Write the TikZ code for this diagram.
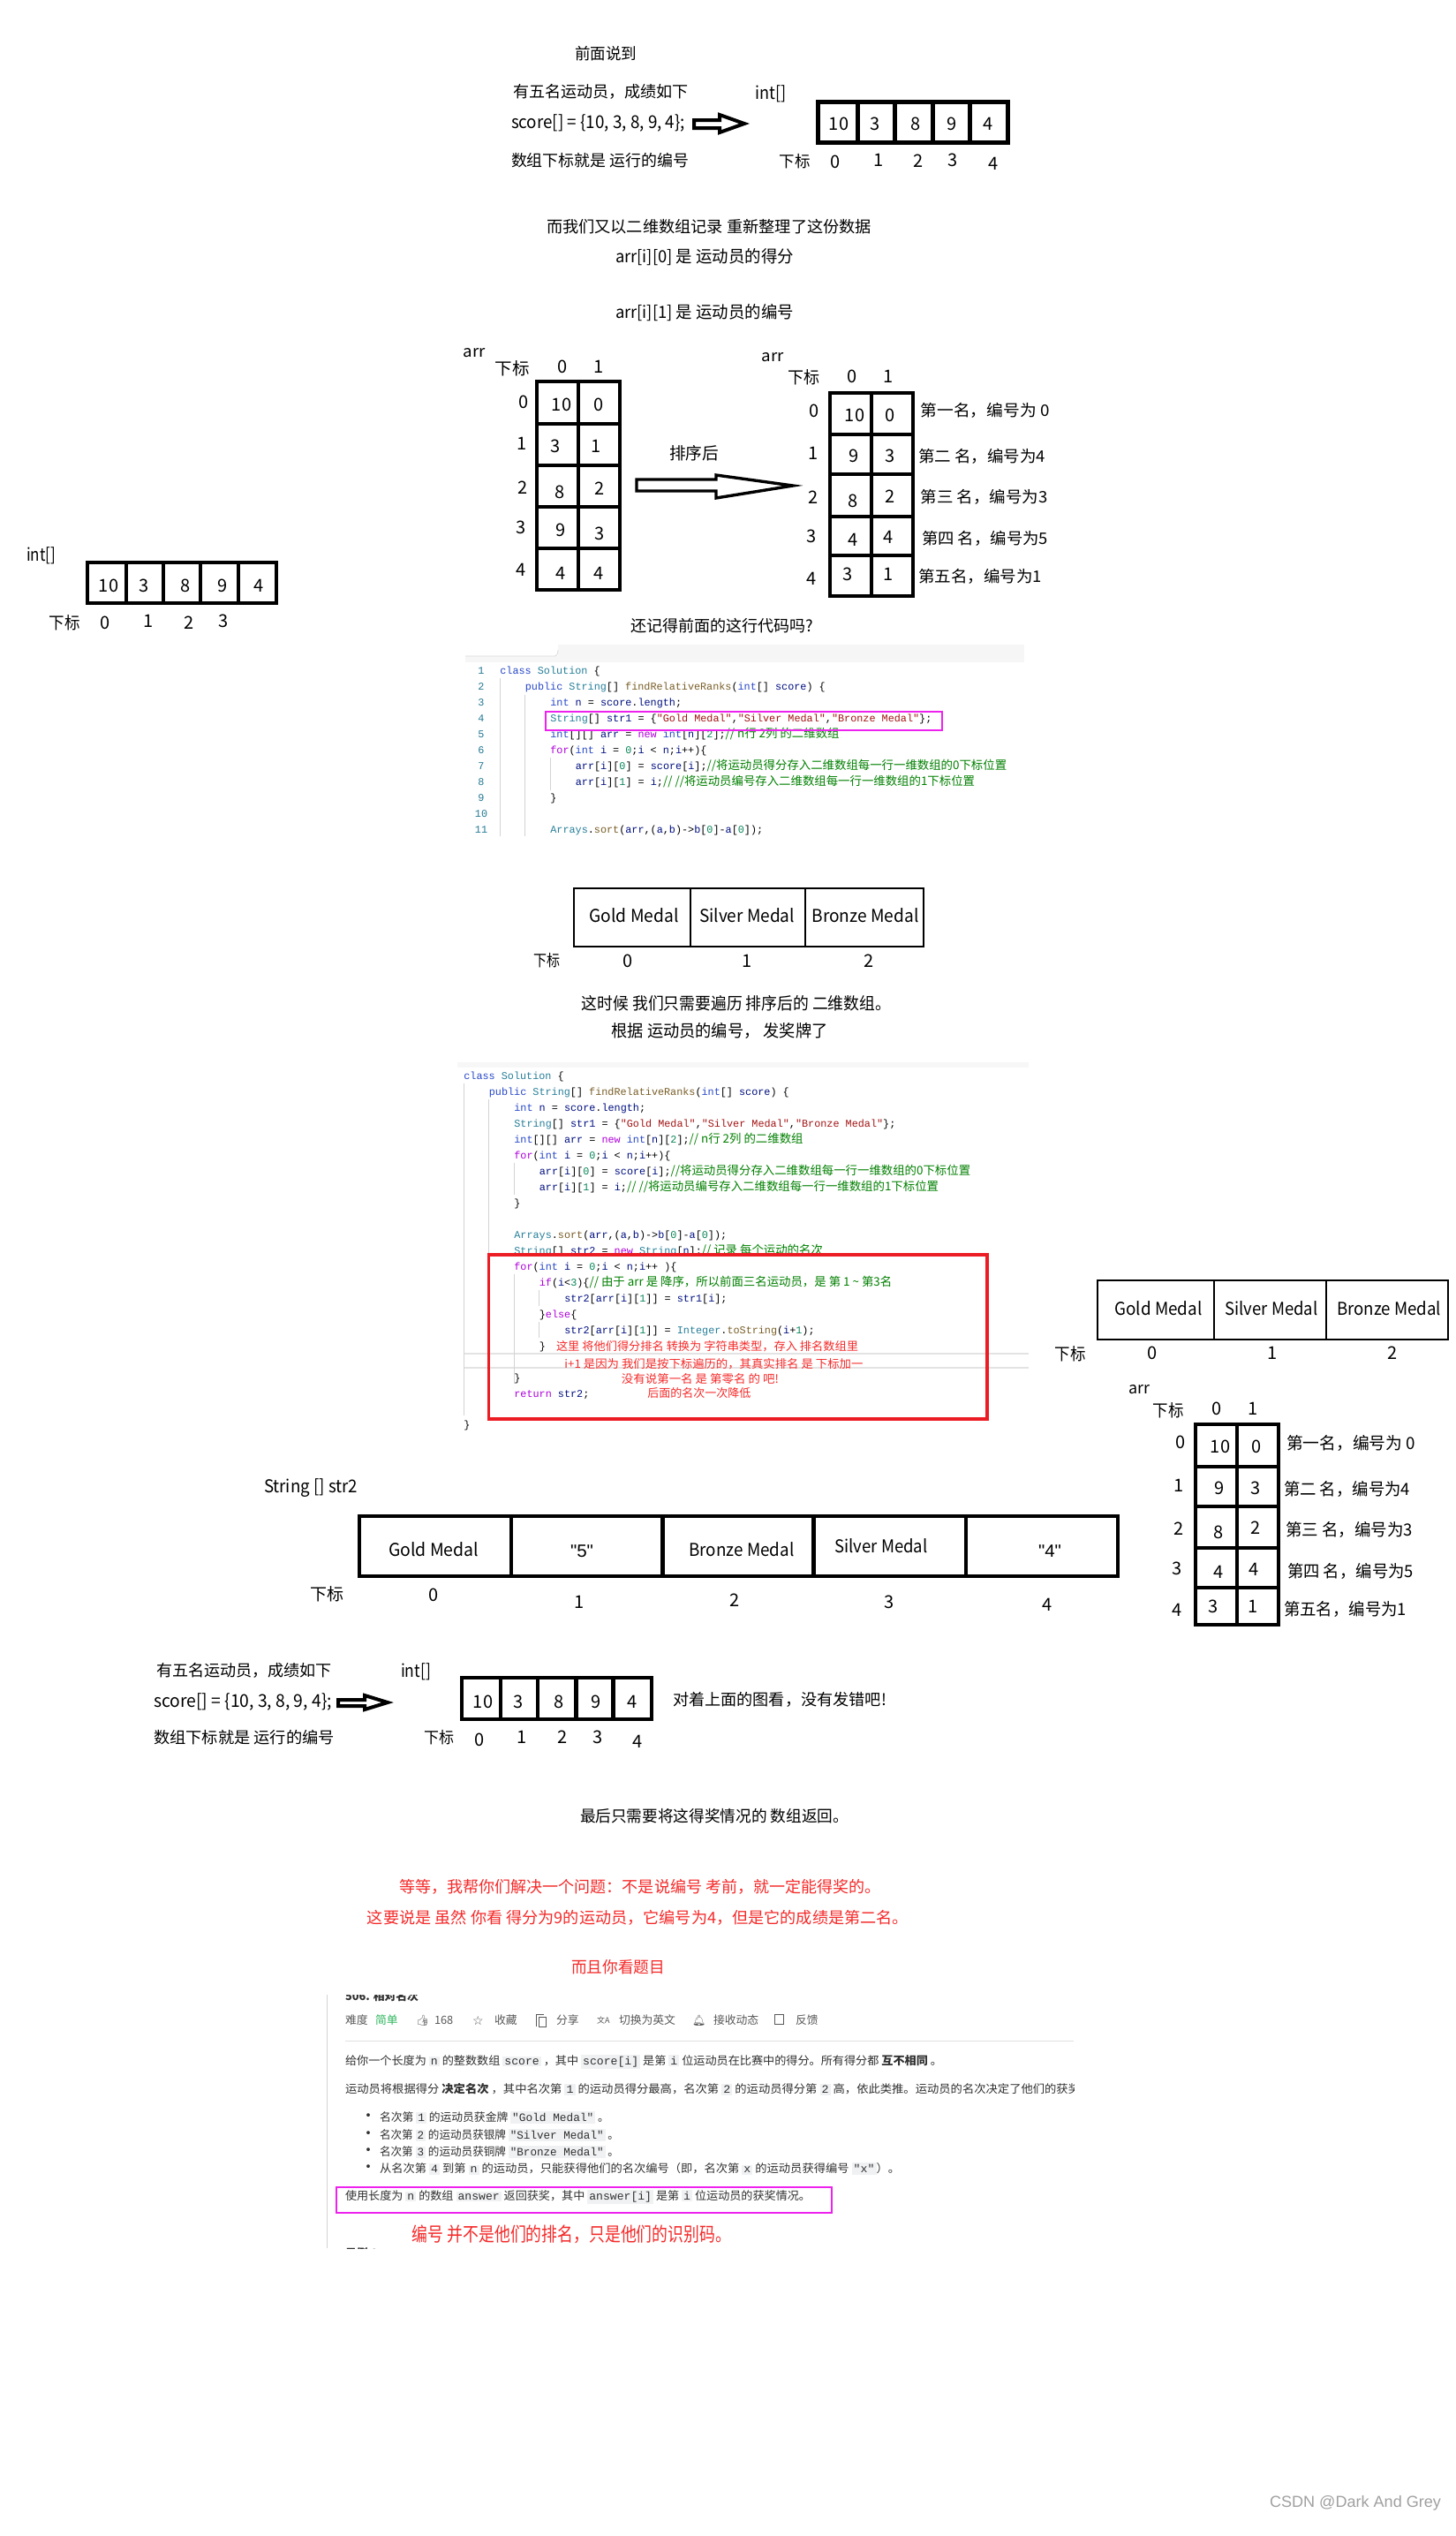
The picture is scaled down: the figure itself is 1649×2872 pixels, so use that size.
\documentclass[tikz,border=0pt]{standalone}
\usepackage{fontspec}
\usepackage{graphicx}
\setmainfont{Noto Sans CJK SC}
\setmonofont{Liberation Mono}
\newfontfamily\cjk{Noto Sans CJK SC}
\newfontfamily\lsans{Liberation Sans}
\newfontfamily\dejavu{DejaVu Sans}
\newfontfamily\emo{Noto Emoji}
\definecolor{ckw}{HTML}{2848C8}
\definecolor{cty}{HTML}{267F99}
\definecolor{cfn}{HTML}{795E26}
\definecolor{cva}{HTML}{001080}
\definecolor{cst}{HTML}{A31515}
\definecolor{ccm}{HTML}{008000}
\definecolor{ckp}{HTML}{AF00DB}
\definecolor{cnu}{HTML}{098658}
\definecolor{clno}{HTML}{237893}
\definecolor{cguide}{HTML}{D3D3D3}
\definecolor{cmag}{HTML}{EE22EE}
\definecolor{cred}{HTML}{F52A2A}
\definecolor{cboxred}{HTML}{EC1C24}
\definecolor{ceasy}{HTML}{2DB55D}
\definecolor{cicbg}{HTML}{F0F1F3}
\definecolor{cwm}{HTML}{A0A0A0}
\definecolor{clc}{HTML}{303030}
\definecolor{cbar}{HTML}{595959}
\newcommand\fs[1]{\fontsize{#1}{#1}\selectfont}
\newcommand\FW[3]{{\fs{#2}\resizebox{#1}{\height}{#3}}}
\newcommand\ckK[1]{\textcolor{ckw}{#1}}
\newcommand\ckT[1]{\textcolor{cty}{#1}}
\newcommand\ckF[1]{\textcolor{cfn}{#1}}
\newcommand\ckV[1]{\textcolor{cva}{#1}}
\newcommand\ckS[1]{\textcolor{cst}{#1}}
\newcommand\ckP[1]{\textcolor{ckp}{#1}}
\newcommand\ckN[1]{\textcolor{cnu}{#1}}
\newcommand\ckC[1]{{\color{ccm}\cjk\fs{6.7pt}#1}}
\newcommand\lcf{\fs{6.4pt}}
\newcommand\ic[1]{{\setlength{\fboxsep}{1pt}\colorbox{cicbg}{\ttfamily\fs{6.4pt}#1}}}
\tikzset{
  tx/.style={inner sep=0pt, outer sep=0pt},
  dig/.style={inner sep=0pt, font=\fs{10pt}},
  code/.style={anchor=base west, inner sep=0pt, font=\ttfamily\fs{5.9pt}},
  lno/.style={anchor=base, inner sep=0pt, font=\ttfamily\fs{5.9pt}, text=clno},
  cellA/.style={line width=2.5pt},
  cellB/.style={line width=2.1pt},
  medal/.style={line width=1.4pt},
  guide/.style={draw=cguide, line width=0.5pt},
  blockarrow/.style={draw=black, fill=white, line width=2pt, line join=miter},
  hlbox/.style={draw=cmag, line width=1pt},
  redtx/.style={inner sep=0pt, anchor=west, text=cred},
}
\begin{document}
\begin{tikzpicture}[x=0.5pt,y=-0.5pt]
\useasboundingbox (0,0) rectangle (1649,2872);
\fill[white] (0,0) rectangle (1649,2872);

% ---------- section 1 ----------
\node[tx] (s1a) at (686,61) {\FW{35pt}{9pt}{前面说到}};
\node[tx,anchor=west] (s1b) at (581,104) {\FW{99.5pt}{9pt}{有五名运动员，成绩如下}};
\node[tx,anchor=west] (s1c) at (579,139) {\FW{98.5pt}{10pt}{score[] = \{10, 3, 8, 9, 4\};}};
\node[tx,anchor=west] (s1d) at (579,182) {\FW{100.5pt}{9pt}{数组下标就是 运行的编号}};
\draw[blockarrow] (786,136)--(815,136)--(815,130)--(843,140)--(815,150)--(815,145)--(786,145)--cycle;
\node[tx] (s1int) at (873,106) {\FW{17.5pt}{10pt}{int[]}};
\draw[cellA] (926,115) rectangle (1141,161);
\foreach \x in {971,1013,1056,1098} \draw[cellA] (\x,115)--(\x,161);
\foreach \x/\v/\n in {950/10/a,991/3/b,1037/8/c,1078/9/d,1119/4/e}
  \node[dig] (s1v\n) at (\x,140) {\v};
\node[tx] (s1idx) at (900,183) {\FW{17.5pt}{9pt}{下标}};
\foreach \x/\y/\v in {946/183/0,995/181/1,1040/182/2,1079/181/3,1125/185/4}
  \node[dig] (s1i\v) at (\x,\y) {\v};

% ---------- section 2 ----------
\node[tx] (s2a) at (803,257) {\FW{184pt}{9pt}{而我们又以二维数组记录 重新整理了这份数据}};
\node[tx] (s2b) at (798,291) {\FW{101pt}{9.5pt}{arr[i][0] 是 运动员的得分}};
\node[tx] (s2c) at (798,354) {\FW{101pt}{9.5pt}{arr[i][1] 是 运动员的编号}};

% ---------- section 3: left 2D array ----------
\node[tx] (Larr) at (537,400) {\FW{12.5pt}{9pt}{arr}};
\node[tx] (Lidx) at (580,417) {\FW{19.5pt}{9.5pt}{下标}};
\node[dig] (Lc0) at (637,415) {0};
\node[dig] (Lc1) at (678,415) {1};
\draw[cellB] (608,432) rectangle (702,668);
\draw[cellB] (655,432)--(655,668);
\foreach \y in {480,527,574,621} \draw[cellB] (608,\y)--(702,\y);
\foreach \x/\y/\v in {593/455/0,591.5/502/1,592/552/2,590.5/597/3,590.5/645/4}
  \node[dig] (Lr\v) at (\x,\y) {\v};
\foreach \x/\y/\v/\n in {636/458/10/a,678/458/0/b,629/505/3/c,675/505/1/d,634/557/8/e,679/553/2/f,635/600/9/g,679/604/3/h,635/649/4/i,678/649/4/j}
  \node[dig] (Lv\n) at (\x,\y) {\v};
\node[tx] (sortlbl) at (786,513) {\FW{28pt}{9.5pt}{排序后}};
\draw[blockarrow, line width=1.7pt] (721,543)--(811,543)--(811,538)--(898,550)--(811,564)--(811,556)--(721,556)--cycle;

% ---------- section 3: right 2D array ----------
\node[tx] (Rarr) at (875,405) {\FW{12.5pt}{9pt}{arr}};
\node[tx] (Ridx) at (910,427) {\FW{18pt}{9.5pt}{下标}};
\node[dig] (Rc0) at (965,426) {0};
\node[dig] (Rc1) at (1006,426) {1};
\draw[cellB] (940,445) rectangle (1034,675);
\draw[cellB] (987,445)--(987,675);
\foreach \y in {492,537,585,629} \draw[cellB] (940,\y)--(1034,\y);
\foreach \x/\y/\v in {922/465/0,921/513/1,921/563/2,919.5/607/3,919.5/655/4}
  \node[dig] (Rr\v) at (\x,\y) {\v};
\foreach \x/\y/\v/\n in {968/470/10/a,1008.5/470/0/b,967/516/9/c,1008.5/516/3/d,966/567/8/e,1008.5/562/2/f,966/611/4/g,1006/608/4/h,960/650/3/i,1006/650/1/j}
  \node[dig] (Rv\n) at (\x,\y) {\v};
\node[tx,anchor=west] (Rl0) at (1042.5,465) {\FW{73pt}{9pt}{第一名，编号为 0}};
\node[tx,anchor=west] (Rl1) at (1040,517) {\FW{72pt}{9pt}{第二 名，编号为4}};
\node[tx,anchor=west] (Rl2) at (1042.5,563) {\FW{72pt}{9pt}{第三 名，编号为3}};
\node[tx,anchor=west] (Rl3) at (1044,610) {\FW{71.5pt}{9pt}{第四 名，编号为5}};
\node[tx,anchor=west] (Rl4) at (1040,653) {\FW{70pt}{9pt}{第五名，编号为1}};

% ---------- left int[] array ----------
\node[tx,anchor=west] (Iint) at (30,629) {\FW{16.5pt}{10pt}{int[]}};
\draw[cellB] (99,637) rectangle (313,683);
\foreach \x in {143,185,227,270} \draw[cellB] (\x,637)--(\x,683);
\foreach \x/\v/\n in {123/10/a,163/3/b,210/8/c,252/9/d,293/4/e}
  \node[dig] (Iv\n) at (\x,663) {\v};
\node[tx] (Iidx) at (73,705) {\FW{17.5pt}{9.5pt}{下标}};
\foreach \x/\y/\v in {119/705/0,168/703/1,214/705/2,253/703/3}
  \node[dig] (Ii\v) at (\x,\y) {\v};

\node[tx] (remember) at (818,709) {\FW{103.5pt}{9pt}{还记得前面的这行代码吗?}};

% ---------- code screenshot 1 ----------
\fill[gray!7] (632,730) rectangle (1160,750);
\fill[gray!7] (527,743) rectangle (632,750);
\draw[gray!30, line width=0.4pt] (527,743)--(628,743) to[out=0,in=-90] (632,736);
\draw[guide] (566,768)--(566,947);
\draw[guide] (594.5,787)--(594.5,947);
\draw[guide] (623,858)--(623,895);
\foreach \k/\y in {1/763,2/781,3/799,4/817,5/835,6/853,7/871,8/889,9/907,10/925,11/943}
  \node[lno] (c1n\k) at (545,\y) {\k};
\node[code] (c1l1) at (566,763) {\ckK{class} \ckT{Solution} \{};
\node[code] (c1l2) at (594.5,781) {\ckK{public} \ckT{String}[] \ckF{findRelativeRanks}(\ckK{int}[] \ckV{score}) \{};
\node[code] (c1l3) at (623,799) {\ckK{int} \ckV{n} = \ckV{score}.\ckV{length};};
\node[code] (c1l4) at (623,817) {\ckT{String}[] \ckV{str1} = \{\ckS{"Gold Medal"},\ckS{"Silver Medal"},\ckS{"Bronze Medal"}\};};
\node[code] (c1l5) at (623,835) {\ckK{int}[][] \ckV{arr} = \ckP{new} \ckK{int}[\ckV{n}][\ckN{2}];\ckC{// n行 2列 的二维数组}};
\node[code] (c1l6) at (623,853) {\ckP{for}(\ckK{int} \ckV{i} = \ckN{0};\ckV{i} < \ckV{n};\ckV{i}++)\{};
\node[code] (c1l7) at (651.5,871) {\ckV{arr}[\ckV{i}][\ckN{0}] = \ckV{score}[\ckV{i}];\ckC{//将运动员得分存入二维数组每一行一维数组的0下标位置}};
\node[code] (c1l8) at (651.5,889) {\ckV{arr}[\ckV{i}][\ckN{1}] = \ckV{i};\ckC{// //将运动员编号存入二维数组每一行一维数组的1下标位置}};
\node[code] (c1l9) at (623,907) {\}};
\node[code] (c1l11) at (623,943) {\ckT{Arrays}.\ckF{sort}(\ckV{arr},(\ckV{a},\ckV{b})->\ckV{b}[\ckN{0}]-\ckV{a}[\ckN{0}]);};
\draw[hlbox] (618,806) rectangle (1067,827);

% ---------- medal table 1 ----------
\draw[medal] (650,1006) rectangle (1046,1072);
\draw[medal] (782,1006)--(782,1072);
\draw[medal] (912,1006)--(912,1072);
\node[tx] (m1g) at (718,1037) {\FW{50.5pt}{10pt}{Gold Medal}};
\node[tx] (m1s) at (846,1037) {\FW{54pt}{10pt}{Silver Medal}};
\node[tx] (m1b) at (980,1037) {\FW{60.5pt}{10pt}{Bronze Medal}};
\node[tx] (m1idx) at (619,1088) {\FW{15pt}{9pt}{下标}};
\node[dig] (m1i0) at (711,1088) {0};
\node[dig] (m1i1) at (846,1088) {1};
\node[dig] (m1i2) at (984,1088) {2};
\node[tx] (trav) at (834,1136) {\FW{175pt}{9.5pt}{这时候 我们只需要遍历 排序后的 二维数组。}};
\node[tx] (award) at (815,1167) {\FW{122.5pt}{9.5pt}{根据 运动员的编号， 发奖牌了}};

% ---------- code screenshot 2 ----------
\fill[gray!6] (518,1203) rectangle (1165,1209);
\draw[gray!22, line width=0.6pt] (525,1533)--(1165,1533);
\draw[gray!22, line width=0.6pt] (525,1549)--(1165,1549);
\draw[guide] (525,1227)--(525,1603);
\draw[guide] (553.5,1245)--(553.5,1603);
\draw[guide] (582,1317)--(582,1353);
\draw[guide] (582,1443)--(582,1567);
\draw[guide] (610.5,1461)--(610.5,1479);
\draw[guide] (610.5,1497)--(610.5,1515);
\node[code] (c2l1) at (525,1222) {\ckK{class} \ckT{Solution} \{};
\node[code] (c2l2) at (553.5,1240) {\ckK{public} \ckT{String}[] \ckF{findRelativeRanks}(\ckK{int}[] \ckV{score}) \{};
\node[code] (c2l3) at (582,1258) {\ckK{int} \ckV{n} = \ckV{score}.\ckV{length};};
\node[code] (c2l4) at (582,1276) {\ckT{String}[] \ckV{str1} = \{\ckS{"Gold Medal"},\ckS{"Silver Medal"},\ckS{"Bronze Medal"}\};};
\node[code] (c2l5) at (582,1294) {\ckK{int}[][] \ckV{arr} = \ckP{new} \ckK{int}[\ckV{n}][\ckN{2}];\ckC{// n行 2列 的二维数组}};
\node[code] (c2l6) at (582,1312) {\ckP{for}(\ckK{int} \ckV{i} = \ckN{0};\ckV{i} < \ckV{n};\ckV{i}++)\{};
\node[code] (c2l7) at (610.5,1330) {\ckV{arr}[\ckV{i}][\ckN{0}] = \ckV{score}[\ckV{i}];\ckC{//将运动员得分存入二维数组每一行一维数组的0下标位置}};
\node[code] (c2l8) at (610.5,1348) {\ckV{arr}[\ckV{i}][\ckN{1}] = \ckV{i};\ckC{// //将运动员编号存入二维数组每一行一维数组的1下标位置}};
\node[code] (c2l9) at (582,1366) {\}};
\node[code] (c2l11) at (582,1402) {\ckT{Arrays}.\ckF{sort}(\ckV{arr},(\ckV{a},\ckV{b})->\ckV{b}[\ckN{0}]-\ckV{a}[\ckN{0}]);};
\node[code] (c2l12) at (582,1420) {\ckT{String}[] \ckV{str2} = \ckP{new} \ckT{String}[\ckV{n}];\ckC{// 记录 每个运动的名次}};
\node[code] (c2l13) at (582,1438) {\ckP{for}(\ckK{int} \ckV{i} = \ckN{0};\ckV{i} < \ckV{n};\ckV{i}++ )\{};
\node[code] (c2l14) at (610.5,1456) {\ckP{if}(\ckV{i}<\ckN{3})\{\ckC{//  由于 arr 是 降序，所以前面三名运动员，是 第 1 \textasciitilde{} 第3名}};
\node[code] (c2l15) at (639,1474) {\ckV{str2}[\ckV{arr}[\ckV{i}][\ckN{1}]] = \ckV{str1}[\ckV{i}];};
\node[code] (c2l16) at (610.5,1492) {\}\ckP{else}\{};
\node[code] (c2l17) at (639,1510) {\ckV{str2}[\ckV{arr}[\ckV{i}][\ckN{1}]] = \ckT{Integer}.\ckF{toString}(\ckV{i}+\ckN{1});};
\node[code] (c2l18) at (610.5,1528) {\}};
\node[code] (c2l20) at (582,1564) {\}};
\node[code] (c2l21) at (582,1582) {\ckP{return} \ckV{str2};};
\node[code] (c2l23) at (525,1617) {\}};
\node[redtx] (rc1) at (629.6,1525) {\FW{171pt}{6.5pt}{这里 将他们得分排名 转换为 字符串类型，存入 排名数组里}};
\node[redtx] (rc2) at (639,1545) {\FW{169pt}{6.5pt}{i+1 是因为 我们是按下标遍历的，其真实排名 是 下标加一}};
\node[redtx] (rc3) at (703.5,1562) {\FW{89pt}{6.5pt}{没有说第一名 是 第零名 的 吧!}};
\node[redtx] (rc4) at (733,1578) {\FW{58.5pt}{6.5pt}{后面的名次一次降低}};
\draw[draw=cboxred, line width=1.75pt] (553.5,1421) rectangle (1118,1607);

% ---------- medal table 2 ----------
\draw[medal] (1243,1450) rectangle (1640,1517);
\draw[medal] (1375,1450)--(1375,1517);
\draw[medal] (1502,1450)--(1502,1517);
\node[tx] (m2g) at (1312,1482) {\FW{49.5pt}{10pt}{Gold Medal}};
\node[tx] (m2s) at (1440,1482) {\FW{52.5pt}{10pt}{Silver Medal}};
\node[tx] (m2b) at (1573,1482) {\FW{59pt}{10pt}{Bronze Medal}};
\node[tx] (m2idx) at (1212,1533) {\FW{17.5pt}{9.5pt}{下标}};
\node[dig] (m2i0) at (1305,1532) {0};
\node[dig] (m2i1) at (1441,1532) {1};
\node[dig] (m2i2) at (1577,1532) {2};

% ---------- right 2D array (bottom) ----------
\node[tx] (Tarr) at (1290,1574) {\FW{12pt}{9pt}{arr}};
\node[tx] (Tidx) at (1323,1597) {\FW{17.5pt}{9.5pt}{下标}};
\node[dig] (Tc0) at (1378,1595) {0};
\node[dig] (Tc1) at (1419,1595) {1};
\draw[cellB] (1354,1613) rectangle (1448,1840);
\draw[cellB] (1401,1613)--(1401,1840);
\foreach \y in {1661,1706,1753,1798} \draw[cellB] (1354,\y)--(1448,\y);
\foreach \x/\y/\v in {1337/1633/0,1335/1682/1,1335/1731/2,1333/1776/3,1333/1823/4}
  \node[dig] (Tr\v) at (\x,\y) {\v};
\foreach \x/\y/\v/\n in {1382/1638/10/a,1423/1638/0/b,1381/1685/9/c,1422/1685/3/d,1380/1735/8/e,1422/1730/2/f,1380/1780/4/g,1420/1777/4/h,1374/1819/3/i,1419/1819/1/j}
  \node[dig] (Tv\n) at (\x,\y) {\v};
\node[tx,anchor=west] (Tl0) at (1457,1634) {\FW{73pt}{9.5pt}{第一名，编号为 0}};
\node[tx,anchor=west] (Tl1) at (1454,1686) {\FW{71.5pt}{9.5pt}{第二 名，编号为4}};
\node[tx,anchor=west] (Tl2) at (1456,1732) {\FW{72pt}{9.5pt}{第三 名，编号为3}};
\node[tx,anchor=west] (Tl3) at (1458,1779) {\FW{71.5pt}{9.5pt}{第四 名，编号为5}};
\node[tx,anchor=west] (Tl4) at (1454,1822) {\FW{69.5pt}{9.5pt}{第五名，编号为1}};

% ---------- String[] str2 ----------
\node[tx,anchor=west] (Sname) at (299,1685) {\FW{53pt}{10pt}{String [] str2}};
\draw[cellB] (407,1717) rectangle (1266,1785);
\foreach \x in {579,750.5,921.5,1094} \draw[cellB] (\x,1717)--(\x,1785);
\node[tx] (S0) at (491,1755) {\FW{51pt}{10pt}{Gold Medal}};
\node[tx] (S1) at (659,1757) {\FW{13pt}{10pt}{\lsans "5"}};
\node[tx] (S2) at (840,1755) {\FW{59.5pt}{10pt}{Bronze Medal}};
\node[tx] (S3) at (998,1751) {\FW{52.5pt}{10pt}{Silver Medal}};
\node[tx] (S4) at (1189,1757) {\FW{13pt}{10pt}{\lsans "4"}};
\node[tx] (Sidx) at (370,1805) {\FW{19pt}{9.5pt}{下标}};
\foreach \x/\y/\v in {491/1806/0,656/1814/1,832/1812/2,1007/1814/3,1186/1817/4}
  \node[dig] (Si\v) at (\x,\y) {\v};

% ---------- section 9 ----------
\node[tx,anchor=west] (n1) at (177,1892) {\FW{99.5pt}{9pt}{有五名运动员，成绩如下}};
\node[tx,anchor=west] (n2) at (174,1927) {\FW{101pt}{10pt}{score[] = \{10, 3, 8, 9, 4\};}};
\node[tx,anchor=west] (n3) at (174,1968) {\FW{102.5pt}{9pt}{数组下标就是 运行的编号}};
\draw[blockarrow] (383,1925)--(413,1925)--(413,1920)--(439,1928)--(413,1936)--(413,1932)--(383,1932)--cycle;
\node[tx] (nint) at (471,1893) {\FW{17pt}{10pt}{int[]}};
\draw[cellB] (523,1900) rectangle (738,1947);
\foreach \x in {567,609,652.5,694.5} \draw[cellB] (\x,1900)--(\x,1947);
\foreach \x/\v/\n in {547/10/a,587/3/b,633.5/8/c,675.5/9/d,716/4/e}
  \node[dig] (nv\n) at (\x,1927) {\v};
\node[tx] (nidx) at (497,1968) {\FW{17pt}{9pt}{下标}};
\foreach \x/\y/\v in {543/1970/0,591/1967/1,637/1967/2,677/1967/3,721.6/1972/4}
  \node[dig] (ni\v) at (\x,\y) {\v};
\node[tx,anchor=west] (ncheck) at (762,1925) {\FW{121pt}{9pt}{对着上面的图看，没有发错吧!}};

% ---------- section 10 ----------
\node[tx] (fin) at (809,2057) {\FW{152pt}{9pt}{最后只需要将这得奖情况的 数组返回。}};
\node[tx, text=cred] (wait1) at (725,2137) {\FW{272.5pt}{9pt}{等等，我帮你们解决一个问题：不是说编号 考前，就一定能得奖的。}};
\node[tx, text=cred] (wait2) at (722.5,2172) {\FW{306.5pt}{9pt}{这要说是 虽然  你看 得分为9的运动员，它编号为4，但是它的成绩是第二名。}};
\node[tx, text=cred] (wait3) at (700,2228) {\FW{53pt}{9pt}{而且你看题目}};

% ---------- LeetCode screenshot ----------
\begin{scope}
\clip (368,2259) rectangle (1216,2546);
\draw[guide] (370,2259)--(370,2546);
\node[tx,anchor=base west, text=clc] (lct) at (391,2265) {\lcf\bfseries 506. 相对名次};
\node[tx,anchor=west, text=cbar] (lcd) at (391,2288) {\lcf 难度};
\node[tx,anchor=west, text=ceasy] (lce) at (425,2288) {\lcf 简单};
\node[tx,anchor=west, text=cbar] (lcthumb) at (471,2288) {\emo\fs{6pt}👍};
\node[tx,anchor=west, text=cbar] (lcnum) at (492,2288) {\lcf 168};
\node[tx,anchor=west, text=cbar] (lcstar) at (535,2288) {\dejavu\fs{7pt}☆};
\node[tx,anchor=west, text=cbar] (lcfav) at (560,2288) {\lcf 收藏};
\draw[cbar, line width=0.5pt] (607,2295)--(607,2281)--(616,2281) (610,2284) rectangle (618,2295);
\node[tx,anchor=west, text=cbar] (lcsh) at (630,2288) {\lcf 分享};
\node[tx,anchor=west, text=cbar] (lctri) at (676,2288) {\fs{4.5pt}文A};
\node[tx,anchor=west, text=cbar] (lctr) at (701,2288) {\lcf 切换为英文};
\node[tx,anchor=west, text=cbar] (lcbell) at (784,2288) {\emo\fs{6pt}🔔};
\node[tx,anchor=west, text=cbar] (lcrx) at (808,2288) {\lcf 接收动态};
\draw[cbar, line width=0.5pt] (877,2281) rectangle (887,2292);
\node[tx,anchor=west, text=cbar] (lcfb) at (901,2288) {\lcf 反馈};
\draw[gray!25, line width=0.5pt] (391,2311)--(1216,2311);
\node[tx,anchor=west, text=clc] (lcp1) at (391,2335) {\FW{338pt}{6.4pt}{给你一个长度为 \ic{n} 的整数数组 \ic{score} ，其中 \ic{score[i]} 是第 \ic{i} 位运动员在比赛中的得分。所有得分都 \textbf{互不相同} 。}};
\node[tx,anchor=west, text=clc] (lcp2) at (391,2366) {\FW{436pt}{6.4pt}{运动员将根据得分 \textbf{决定名次} ，其中名次第 \ic{1} 的运动员得分最高，名次第 \ic{2} 的运动员得分第 \ic{2} 高，依此类推。运动员的名次决定了他们的获奖情况：}};
\foreach \y/\n in {2398/a,2418/b,2437/c,2456/d}
  \node[tx, text=clc] (lcb\n) at (417.5,\y) {\fs{9pt}•};
\node[tx,anchor=west, text=clc] (lcb1) at (430,2398) {\FW{130pt}{6.4pt}{名次第 \ic{1} 的运动员获金牌 \ic{"Gold Medal"} 。}};
\node[tx,anchor=west, text=clc] (lcb2) at (430,2418) {\FW{135.5pt}{6.4pt}{名次第 \ic{2} 的运动员获银牌 \ic{"Silver Medal"} 。}};
\node[tx,anchor=west, text=clc] (lcb3) at (430,2437) {\FW{135.5pt}{6.4pt}{名次第 \ic{3} 的运动员获铜牌 \ic{"Bronze Medal"} 。}};
\node[tx,anchor=west, text=clc] (lcb4) at (430,2456) {\FW{294.5pt}{6.4pt}{从名次第 \ic{4} 到第 \ic{n} 的运动员，只能获得他们的名次编号（即，名次第 \ic{x} 的运动员获得编号 \ic{"x"}）。}};
\node[tx,anchor=west, text=clc] (lcans) at (391,2488) {\FW{263.5pt}{6.4pt}{使用长度为 \ic{n} 的数组 \ic{answer} 返回获奖，其中 \ic{answer[i]} 是第 \ic{i} 位运动员的获奖情况。}};
\draw[hlbox] (381,2477) rectangle (942,2506);
\node[tx, text=cred] (lcred) at (647.5,2530) {\FW{180.5pt}{11pt}{编号 并不是他们的排名，只是他们的识别码。}};
\node[tx,anchor=base west, text=clc] (lcex) at (391,2556) {\lcf\bfseries 示例 1：};
\end{scope}

% ---------- watermark ----------
\node[tx, text=cwm] (wm) at (1535,2835) {\FW{97pt}{9pt}{\lsans CSDN @Dark And Grey}};
\end{tikzpicture}
\end{document}
